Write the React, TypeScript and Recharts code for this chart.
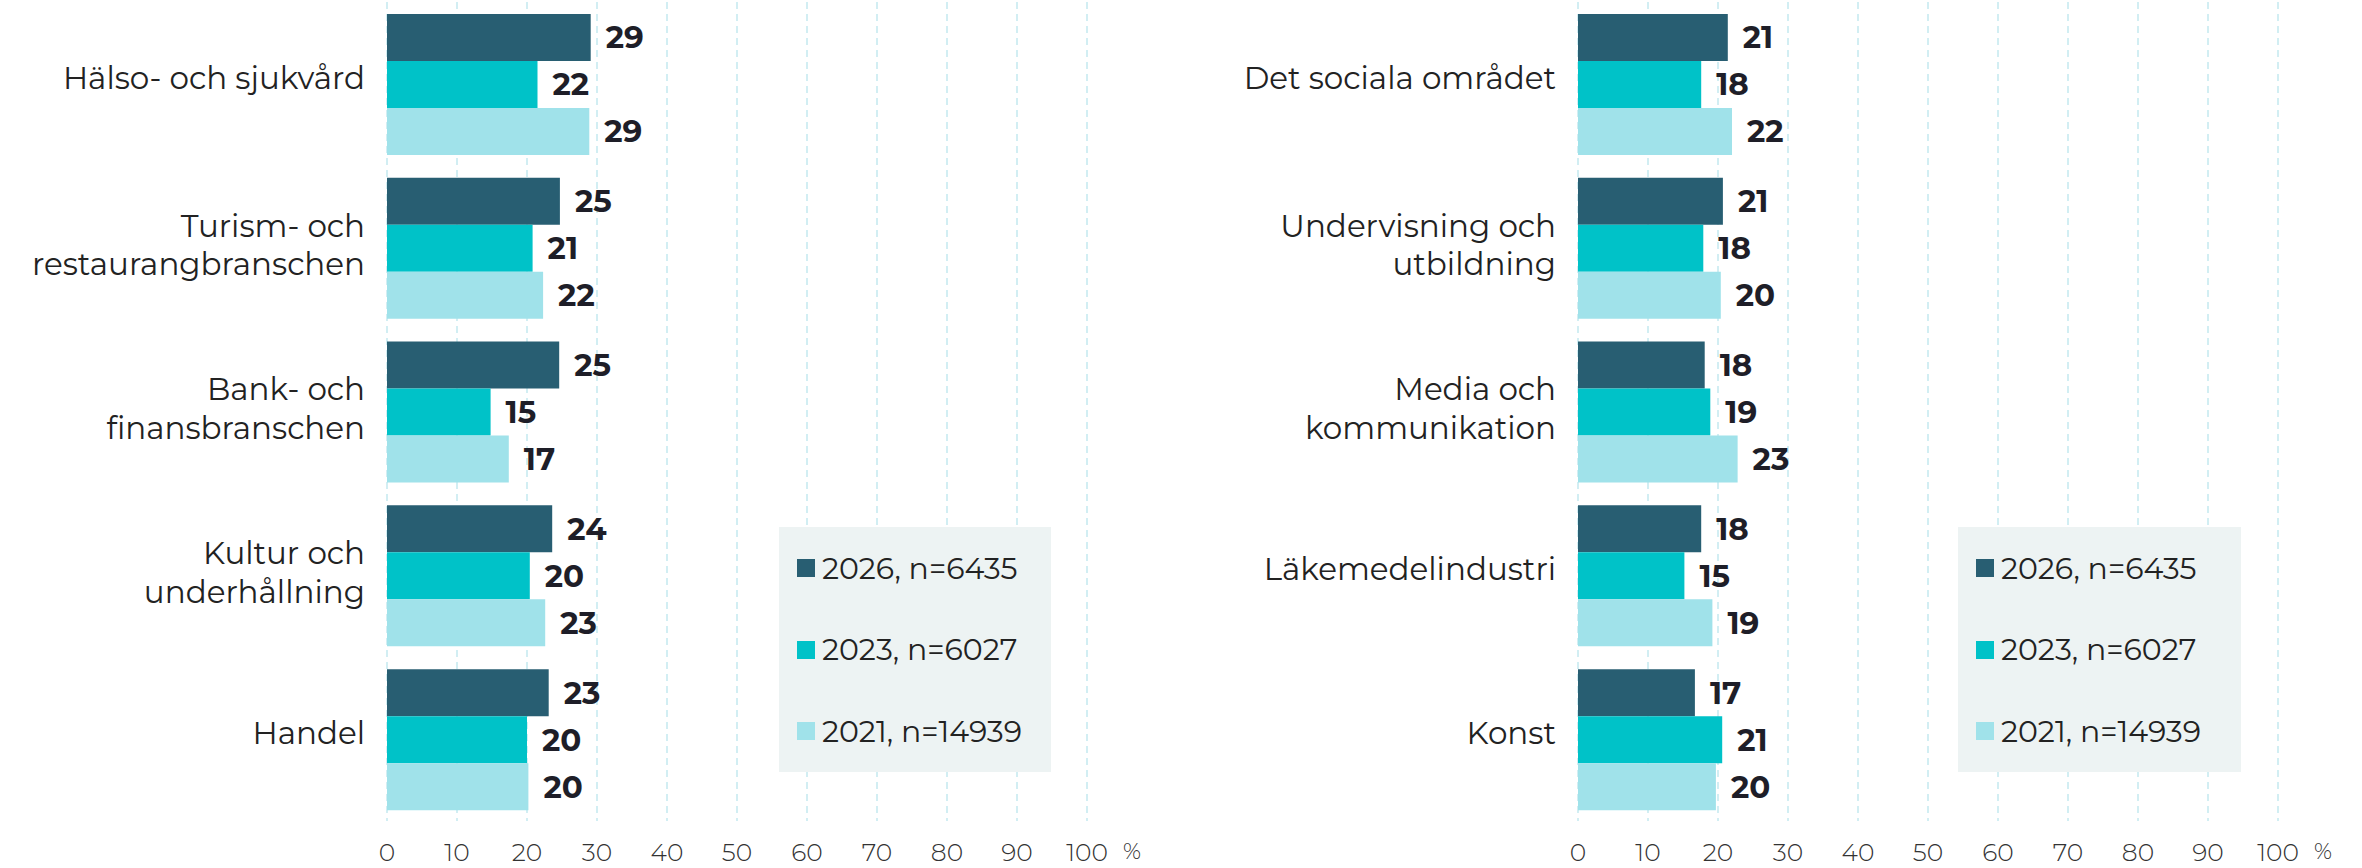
import React from 'react';
import { BarChart, Bar, XAxis, YAxis, CartesianGrid, LabelList } from 'recharts';

const FONT = 'Montserrat, Inter, "Noto Sans", sans-serif';

const COLORS = {
  y2026: '#285e72',
  y2023: '#00c2c8',
  y2021: '#a0e2ea',
};

const SERIES_NAMES = ['2026, n=6435', '2023, n=6027', '2021, n=14939'];

const X_TICKS = [0, 10, 20, 30, 40, 50, 60, 70, 80, 90, 100];

// left panel
const CATS_LEFT = [
  'Hälso- och sjukvård',
  'Turism- och\nrestaurangbranschen',
  'Bank- och\nfinansbranschen',
  'Kultur och\nunderhållning',
  'Handel',
];
const Y2026_LEFT = [29.1, 24.7, 24.6, 23.6, 23.1];
const Y2023_LEFT = [21.5, 20.8, 14.8, 20.4, 20.0];
const Y2021_LEFT = [28.9, 22.3, 17.4, 22.6, 20.2];

// right panel
const CATS_RIGHT = [
  'Det sociala området',
  'Undervisning och\nutbildning',
  'Media och\nkommunikation',
  'Läkemedelindustri',
  'Konst',
];
const Y2026_RIGHT = [21.4, 20.7, 18.1, 17.6, 16.7];
const Y2023_RIGHT = [17.6, 17.9, 18.9, 15.2, 20.6];
const Y2021_RIGHT = [22.0, 20.4, 22.8, 19.2, 19.7];

const buildRows = (cats: string[], a: number[], b: number[], c: number[]) =>
  cats.map((cat, i) => ({ cat, y2026: a[i], y2023: b[i], y2021: c[i] }));

const CategoryTick = (props: any) => {
  const { x, y, payload } = props;
  const lines = String(payload.value).split('\n');
  const fs = 31;
  const lh = 38.5;
  const center = lines.length === 1 ? y - 6 : y - 3;
  const first = center - ((lines.length - 1) * lh) / 2;
  return (
    <text textAnchor="end" fontSize={fs} fill="#222" fontFamily={FONT}>
      {lines.map((l, i) => (
        <tspan key={i} x={x - 22} y={first + i * lh + fs * 0.36}>
          {l}
        </tspan>
      ))}
    </text>
  );
};

const ValueTick = (props: any) => {
  const { x, y, payload } = props;
  return (
    <g>
      <text x={x} y={y + 32} textAnchor="middle" fontSize={25} fontWeight={300} fill="#333" fontFamily={FONT}>
        {payload.value}
      </text>
      {payload.value === 100 && (
        <text x={x + 45} y={y + 30} textAnchor="middle" fontSize={22} fontWeight={300} fill="#333" fontFamily={FONT}>
          %
        </text>
      )}
    </g>
  );
};

const LegendBox = ({ left, width }: { left: number; width: number }) => (
  <div
    style={{
      position: 'absolute',
      left,
      top: 527,
      width,
      height: 245,
      background: '#edf3f3',
      boxSizing: 'border-box',
      padding: '28px 0 28px 18px',
      display: 'flex',
      flexDirection: 'column',
      justifyContent: 'space-between',
      fontFamily: FONT,
    }}
  >
    {SERIES_NAMES.map((name, i) => (
      <div key={name} style={{ display: 'flex', alignItems: 'center', height: 26 }}>
        <span
          style={{
            display: 'inline-block',
            width: 18,
            height: 18,
            background: [COLORS.y2026, COLORS.y2023, COLORS.y2021][i],
            marginRight: 7,
          }}
        />
        <span style={{ fontSize: 30, color: '#222', whiteSpace: 'nowrap' }}>{name}</span>
      </div>
    ))}
  </div>
);

interface PanelProps {
  rows: ReturnType<typeof buildRows>;
  left: number;
  width: number;
  axisWidth: number;
  legendLeft: number;
  legendWidth: number;
}

const Panel: React.FC<PanelProps> = ({ rows, left, width, axisWidth, legendLeft, legendWidth }) => (
  <div style={{ position: 'absolute', left, top: 0, width, height: 868 }}>
    <BarChart
      width={width}
      height={868}
      data={rows}
      layout="vertical"
      barCategoryGap="7.3%"
      barGap={0}
      margin={{ top: 2, right: width - axisWidth - 700, bottom: 0, left: 0 }}
    >
      <CartesianGrid horizontal={false} stroke="#c4e9ef" strokeDasharray="7 5" strokeWidth={1.5} />
      <XAxis
        type="number"
        domain={[0, 100]}
        ticks={X_TICKS}
        axisLine={false}
        tickLine={false}
        height={47}
        tick={<ValueTick />}
        interval={0}
      />
      <YAxis
        type="category"
        dataKey="cat"
        width={axisWidth}
        axisLine={false}
        tickLine={false}
        tickSize={0}
        tickMargin={0}
        tick={<CategoryTick />}
        interval={0}
      />
      {(['y2026', 'y2023', 'y2021'] as const).map((key, i) => (
        <Bar key={key} dataKey={key} name={SERIES_NAMES[i]} fill={COLORS[key]} isAnimationActive={false}>
          <LabelList
            dataKey={key}
            position="right"
            offset={15}
            formatter={(v: any) => Math.round(Number(v))}
            style={{ fontSize: 31, fontWeight: 700, fill: '#1e1e28', fontFamily: FONT }}
          />
        </Bar>
      ))}
    </BarChart>
    <LegendBox left={legendLeft} width={legendWidth} />
  </div>
);

export default function App() {
  const leftRows = buildRows(CATS_LEFT, Y2026_LEFT, Y2023_LEFT, Y2021_LEFT);
  const rightRows = buildRows(CATS_RIGHT, Y2026_RIGHT, Y2023_RIGHT, Y2021_RIGHT);
  return (
    <div style={{ position: 'absolute', left: 0, top: 0, width: 2362, height: 868, background: '#fff', overflow: 'hidden' }}>
      <Panel rows={leftRows} left={0} width={1180} axisWidth={387} legendLeft={779} legendWidth={272} />
      <Panel rows={rightRows} left={1190} width={1172} axisWidth={388} legendLeft={768} legendWidth={283} />
    </div>
  );
}
